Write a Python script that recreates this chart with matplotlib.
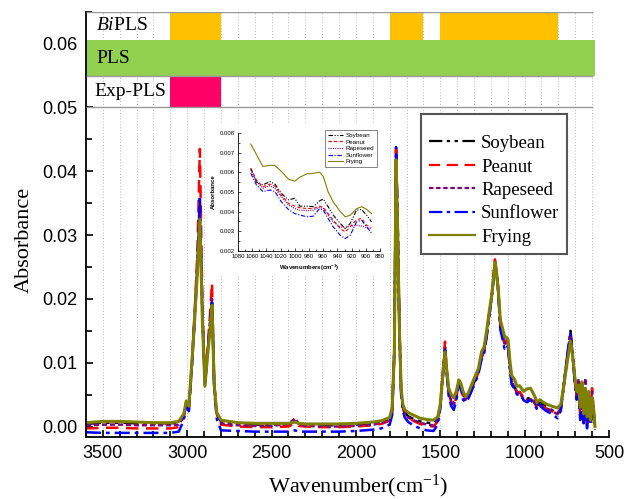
import numpy as np
import matplotlib
matplotlib.use("Agg")
import matplotlib.pyplot as plt
from matplotlib.patches import Rectangle
from matplotlib.ticker import MultipleLocator

plt.rcParams['font.family'] = ['Liberation Sans', 'DejaVu Sans']
plt.rcParams['mathtext.fontset'] = 'custom'
plt.rcParams['mathtext.rm'] = 'Liberation Serif'
plt.rcParams['mathtext.it'] = 'Liberation Serif:italic'
plt.rcParams['mathtext.bf'] = 'Liberation Serif:bold'

SERIF = ['Liberation Serif', 'DejaVu Serif']

# ---- main spectra (absorbance in 1e-3 units) ----
wn = [3600, 3500, 3400, 3300, 3200, 3100, 3050, 3020, 3006, 2990,
      2970, 2955, 2940, 2925, 2910, 2895, 2880, 2865, 2853, 2840,
      2825, 2800, 2700, 2600, 2500, 2400, 2360, 2340, 2300, 2200,
      2100, 2000, 1900, 1850, 1800, 1785, 1772, 1762, 1752, 1742,
      1732, 1722, 1710, 1690, 1660, 1620, 1580, 1540, 1515, 1500,
      1485, 1472, 1462, 1450, 1435, 1420, 1405, 1390, 1378, 1365,
      1350, 1335, 1315, 1295, 1275, 1255, 1240, 1225, 1210, 1196,
      1185, 1176, 1166, 1156, 1144, 1132, 1119, 1108, 1098, 1088,
      1077, 1060, 1045, 1030, 1005, 985, 965, 945, 925, 910,
      895, 870, 840, 805, 785, 764, 745, 728, 715, 704,
      692, 680, 670, 660, 650, 640, 630, 620, 610, 600,
      590, 583]

soybean = [0.4, 0.6, 0.6, 0.5, 0.5, 0.5, 0.6, 1.8, 3.8, 3.0,
           10.5, 17.0, 24.5, 33.5, 17.0, 6.8, 11.5, 15.5, 19.5, 6.5,
           2.1, 0.8, 0.4, 0.3, 0.3, 0.3, 0.8, 0.4, 0.3, 0.2,
           0.2, 0.3, 0.4, 0.6, 1.1, 2.6, 12.5, 43.3, 31.0, 15.5,
           5.8, 3.2, 2.2, 1.6, 1.2, 0.8, 0.6, 0.5, 1.2, 3.3,
           8.2, 12.5, 9.0, 5.5, 4.3, 3.6, 4.8, 7.0, 6.5, 5.0,
           4.3, 4.8, 6.0, 7.2, 8.6, 11.0, 12.0, 14.5, 17.6, 20.2,
           23.2, 26.0, 24.3, 21.5, 16.0, 14.5, 13.2, 13.5, 13.0, 9.8,
           7.3, 6.2, 5.4, 5.4, 4.5, 4.3, 4.6, 4.1, 3.1, 4.1,
           3.5, 3.0, 2.6, 2.0, 3.0, 7.5, 11.5, 15.0, 11.5, 8.0,
           5.0, 6.0, 2.0, 5.0, 0.2, 4.5, 0.0, 3.5, 0.5, 3.0,
           1.0, -0.5]

peanut = [-0.3, -0.2, -0.2, -0.3, -0.3, -0.3, -0.1, 1.6, 3.6, 2.8,
          11.0, 18.5, 27.0, 43.5, 19.0, 6.8, 12.0, 17.5, 22.5, 7.0,
          2.0, 0.3, 0.0, -0.1, -0.1, 0.0, 0.5, 0.1, 0.0, -0.1,
          -0.1, 0.0, 0.2, 0.4, 0.9, 2.4, 12.0, 43.6, 31.5, 15.5,
          5.5, 3.0, 1.9, 1.3, 0.9, 0.4, 0.1, 0.0, 0.8, 3.2,
          8.5, 13.3, 9.0, 5.2, 3.9, 3.3, 4.5, 6.8, 6.3, 4.7,
          4.1, 4.6, 5.8, 7.0, 8.4, 10.8, 11.8, 14.3, 17.5, 20.3,
          23.5, 26.2, 24.5, 21.3, 15.8, 14.3, 13.0, 13.4, 12.8, 9.6,
          7.2, 6.2, 5.3, 5.4, 4.5, 4.2, 4.3, 3.9, 3.0, 3.6,
          3.2, 2.8, 2.4, 1.8, 2.8, 7.0, 11.0, 14.2, 11.0, 7.5,
          4.5, 5.5, 1.5, 6.0, 1.0, 5.0, 0.5, 4.0, 2.0, 6.0,
          2.0, 0.5]

rapeseed = [0.2, 0.3, 0.3, 0.2, 0.2, 0.2, 0.3, 1.6, 3.7, 2.9,
            10.8, 17.8, 25.5, 34.5, 17.5, 6.6, 11.6, 16.0, 20.0, 6.3,
            2.0, 0.5, 0.2, 0.1, 0.1, 0.4, 1.3, 0.4, 0.1, 0.0,
            0.0, 0.1, 0.3, 0.5, 1.0, 2.5, 12.0, 42.5, 30.5, 15.0,
            5.4, 3.0, 2.0, 1.4, 1.0, 0.6, 0.3, 0.2, 1.0, 3.1,
            8.0, 12.0, 8.8, 5.3, 4.0, 3.4, 4.6, 6.8, 6.4, 4.8,
            4.2, 4.7, 5.9, 7.1, 8.5, 10.9, 11.9, 14.4, 17.4, 20.0,
            23.0, 25.8, 24.0, 21.0, 15.9, 14.4, 13.0, 13.3, 12.7, 9.5,
            7.1, 6.1, 5.2, 5.2, 4.3, 4.1, 4.2, 3.8, 3.1, 3.2,
            3.1, 2.8, 2.5, 1.9, 2.9, 7.2, 11.2, 14.5, 11.2, 7.8,
            4.8, 7.5, 2.5, 6.5, 1.5, 7.6, 1.0, 5.0, 1.5, 5.5,
            2.5, 1.0]

sunflower = [-0.9, -1.0, -1.0, -1.0, -1.0, -1.0, -0.8, 1.0, 3.3, 2.4,
             10.2, 17.5, 25.0, 36.2, 17.8, 6.2, 11.3, 16.2, 19.8, 5.8,
             1.2, -0.6, -0.7, -0.8, -0.8, -0.8, -0.6, -0.8, -0.8, -0.8,
             -0.8, -0.7, -0.5, -0.3, 0.3, 1.8, 11.5, 43.8, 31.0, 14.5,
             5.0, 2.5, 1.4, 0.7, 0.2, -0.3, -0.6, -0.7, 0.3, 2.8,
             7.6, 12.0, 8.3, 4.8, 3.2, 2.6, 4.0, 6.5, 6.0, 4.2,
             3.8, 4.3, 5.5, 6.8, 8.1, 10.5, 11.5, 14.0, 17.2, 20.0,
             22.8, 25.5, 23.8, 20.8, 15.2, 13.8, 12.2, 12.8, 12.3, 9.0,
             6.6, 5.9, 5.0, 5.1, 4.1, 3.8, 4.2, 3.6, 2.6, 3.4,
             2.9, 2.4, 2.0, 1.3, 2.5, 7.4, 11.8, 14.6, 11.0, 7.2,
             4.2, 5.0, 1.0, 5.5, 0.5, 4.2, -0.3, 3.0, 0.8, 4.0,
             1.5, 0.0]

frying = [0.6, 0.8, 0.8, 0.7, 0.6, 0.6, 0.8, 2.0, 4.0, 3.2,
          11.0, 17.2, 24.0, 32.5, 16.5, 6.3, 11.0, 15.0, 19.0, 6.5,
          2.2, 1.0, 0.6, 0.5, 0.5, 0.5, 0.7, 0.5, 0.4, 0.4,
          0.4, 0.5, 0.7, 0.9, 1.4, 3.0, 12.0, 41.8, 30.0, 15.0,
          6.0, 3.5, 2.6, 2.2, 1.8, 1.3, 1.1, 1.0, 1.5, 3.5,
          8.0, 11.7, 9.0, 6.0, 5.0, 4.5, 5.5, 7.3, 6.8, 5.5,
          4.7, 5.2, 6.5, 7.8, 9.0, 11.7, 12.5, 15.0, 18.0, 20.4,
          23.0, 25.7, 24.0, 21.4, 16.7, 15.5, 14.1, 14.0, 13.6, 10.5,
          8.0, 7.4, 6.3, 6.4, 5.5, 5.9, 6.0, 5.0, 3.8, 4.2,
          3.9, 3.5, 3.2, 2.9, 3.5, 7.1, 10.5, 13.4, 11.0, 8.1,
          5.5, 6.5, 3.0, 7.0, 2.0, 6.0, 1.5, 5.5, 1.0, 4.5,
          2.5, 0.0]

# ---- inset (1080-880 cm-1), absorbance in 1e-3 units ----
wn_in = [1062, 1054, 1045, 1035, 1028, 1019, 1009, 1000, 993, 983, 974,
         965, 960, 953, 946, 936, 929, 922, 913, 906, 899, 892]
soybean_in = [6.2, 5.5, 5.36, 5.53, 5.4, 4.93, 4.6, 4.68, 4.28, 4.28, 4.25,
              4.55, 4.64, 4.25, 3.83, 3.4, 3.14, 3.4, 4.08, 4.11, 3.83, 3.48]
peanut_in = [6.2, 5.6, 5.27, 5.4, 5.3, 4.85, 4.42, 4.28, 4.2, 4.16, 4.16,
             4.28, 4.22, 3.9, 3.57, 3.14, 2.97, 3.23, 3.6, 3.65, 3.31, 3.2]
rapeseed_in = [6.13, 5.53, 5.19, 5.32, 5.19, 4.76, 4.34, 4.16, 4.08, 4.05, 4.08,
               4.22, 4.16, 3.83, 3.48, 3.23, 3.19, 3.26, 3.31, 3.26, 3.19, 3.14]
sunflower_in = [5.95, 5.36, 5.02, 5.1, 5.02, 4.5, 4.11, 3.9, 3.83, 3.74, 3.77,
                4.16, 4.08, 3.65, 3.23, 2.8, 2.63, 2.8, 3.48, 3.57, 3.23, 2.92]
frying_in = [7.44, 6.9, 6.3, 6.35, 6.35, 6.05, 5.65, 5.55, 5.75, 5.92, 5.95,
             6.0, 5.8, 5.0, 4.5, 4.0, 3.74, 3.82, 4.15, 4.25, 4.12, 3.91]

names = ['Soybean', 'Peanut', 'Rapeseed', 'Sunflower', 'Frying']
colors = ['black', '#ff0000', '#800080', '#0000ff', '#808000']
styles = [(0, (6, 2, 1.5, 2, 1.5, 2)), (0, (5, 3)), (0, (2, 1.2)),
          (0, (6, 2, 1.5, 2)), '-']

# selected spectral intervals
bipls_int = [(3100, 2800), (1800, 1600), (1500, 800)]
pls_int = [(3600, 580)]
exppls_int = [(3100, 2800)]

fig = plt.figure(figsize=(6.24, 4.99), dpi=100)
ax = fig.add_axes([0.1378, 0.1248, 0.8381, 0.8517])

wn = np.array(wn)
main = [soybean, peanut, rapeseed, sunflower, frying]
for vals, nm, c, ls in zip(main, names, colors, styles):
    lw = 2.2 if nm == 'Frying' else 1.8
    ax.plot(wn, np.array(vals) / 1000, color=c, ls=ls, lw=lw, label=nm)

ax.set_xlim(3600, 500)
ax.set_ylim(-0.0016, 0.065)

# vertical dotted grid
for g in range(3500, 550, -100):
    ax.axvline(g, color='#bbbbbb', lw=0.7, ls=(0, (1, 2)), zorder=0)

# band rows
rows = [(0.0605, 0.065), (0.055, 0.0605), (0.05, 0.055)]
for (x0, x1) in bipls_int:
    ax.fill_between([x0, x1], rows[0][0], rows[0][1], color='#ffc000', lw=0, zorder=2)
for (x0, x1) in pls_int:
    ax.fill_between([x0, x1], rows[1][0], rows[1][1], color='#92d050', lw=0, zorder=2)
for (x0, x1) in exppls_int:
    ax.fill_between([x0, x1], rows[2][0], rows[2][1], color='#ff0066', lw=0, zorder=2)
ax.hlines([0.065, 0.055, 0.05], 3600, 595, color='#999999', lw=1.0, zorder=3)
ax.text(0.019, 0.0628, r'$\mathit{Bi}$PLS', transform=ax.get_yaxis_transform(),
        family=SERIF, fontsize=14, va='center', ha='left', zorder=4)
ax.text(0.019, 0.0577, 'PLS', transform=ax.get_yaxis_transform(),
        family=SERIF, fontsize=14, va='center', ha='left', zorder=4)
ax.text(0.017, 0.0525, 'Exp-PLS', transform=ax.get_yaxis_transform(),
        family=SERIF, fontsize=14, va='center', ha='left', zorder=4)

ax.spines['top'].set_visible(False)
ax.spines['right'].set_visible(False)
ax.spines['left'].set_linewidth(1.3)
ax.spines['bottom'].set_linewidth(1.3)
ax.xaxis.set_major_locator(MultipleLocator(500))
ax.xaxis.set_minor_locator(MultipleLocator(100))
ax.yaxis.set_major_locator(MultipleLocator(0.01))
ax.yaxis.set_minor_locator(MultipleLocator(0.005))
ax.tick_params(which='both', direction='in', width=1.2)
ax.tick_params(which='major', length=5, labelsize=13, pad=6)
ax.tick_params(which='minor', length=4)
ax.set_yticks([0, 0.01, 0.02, 0.03, 0.04, 0.05, 0.06])
ax.set_yticklabels(['0.00', '0.01', '0.02', '0.03', '0.04', '0.05', '0.06'])
ax.set_xticks([3500, 3000, 2500, 2000, 1500, 1000, 500])

ax.set_ylabel('Absorbance', family=SERIF, fontsize=16)
ax.yaxis.set_label_coords(-0.10, 0.463)
ax.set_xlabel(r'Wavenumber(cm$^{\mathregular{-1}}$)', family=SERIF, fontsize=16)
ax.xaxis.set_label_coords(0.52, -0.085)

leg = ax.legend(loc='upper left', bbox_to_anchor=(421 / 624, 1 - 114 / 499),
                bbox_transform=fig.transFigure, prop={'family': SERIF, 'size': 13.5},
                handlelength=2.5, handletextpad=0.3, labelspacing=0.34,
                borderpad=0.4, borderaxespad=0, fancybox=False, framealpha=1,
                title=' ', title_fontsize=5)
leg.get_frame().set_edgecolor('#555555')
leg.get_frame().set_linewidth(1.5)
leg.set_zorder(5)
for h in leg.get_lines():
    h.set_linewidth(1.6)

# white area behind inset
fig.add_artist(Rectangle((0.3285, 0.4469), 0.2933, 0.3046, transform=fig.transFigure,
                         facecolor='white', edgecolor='none', zorder=2))

axin = fig.add_axes([0.3814, 0.497, 0.2276, 0.2365])
axin.set_zorder(3)
inset = [soybean_in, peanut_in, rapeseed_in, sunflower_in, frying_in]
in_styles = [(0, (4, 1.5, 1, 1.5, 1, 1.5)), (0, (3, 2)), (0, (1, 1)),
             (0, (4, 1.5, 1, 1.5)), '-']
for vals, nm, c, ls in zip(inset, names, colors, in_styles):
    axin.plot(wn_in, np.array(vals) / 1000, color=c, ls=ls, lw=0.8, label=nm)
axin.set_xlim(1080, 880)
axin.set_ylim(0.002, 0.008)
axin.spines['top'].set_visible(False)
axin.spines['right'].set_visible(False)
axin.spines['left'].set_linewidth(0.6)
axin.spines['bottom'].set_linewidth(0.6)
axin.xaxis.set_major_locator(MultipleLocator(20))
axin.xaxis.set_minor_locator(MultipleLocator(10))
axin.yaxis.set_major_locator(MultipleLocator(0.001))
axin.yaxis.set_minor_locator(MultipleLocator(0.0005))
axin.tick_params(which='both', direction='in', width=0.5, labelsize=4.3, pad=2)
axin.tick_params(which='major', length=2.5)
axin.tick_params(which='minor', length=1.5)
axin.set_ylabel('Absorbance', fontsize=4.3, fontweight='bold', labelpad=3)
axin.set_xlabel(r'Wavenumbers(cm$^{\mathregular{-1}}$)', fontsize=4.3,
                fontweight='bold', labelpad=3)
lin = axin.legend(loc='upper right', bbox_to_anchor=(377 / 624, 1 - 130 / 499),
                  bbox_transform=fig.transFigure, fontsize=4.5, handlelength=2.5,
                  handletextpad=0.4, labelspacing=0.2, borderpad=0.4,
                  borderaxespad=0, fancybox=False, framealpha=1)
lin.get_frame().set_edgecolor('#555555')
lin.get_frame().set_linewidth(0.5)

fig.savefig('out.png', dpi=100)
